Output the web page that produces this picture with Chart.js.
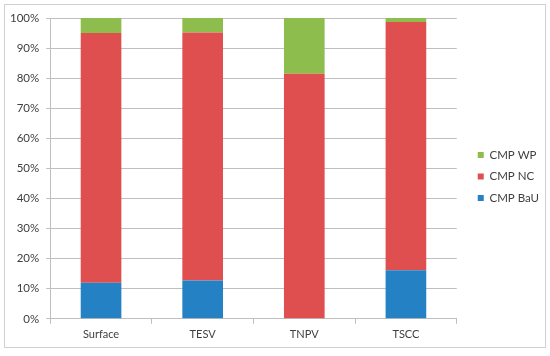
<!DOCTYPE html>
<html>
<head>
<meta charset="utf-8">
<script src="https://cdn.jsdelivr.net/npm/chart.js@4"></script>
<style>
    html, body { margin: 0; padding: 0; background: #fff; }
    #wrap { width: 550px; height: 356px; position: relative; }
</style>
</head>
<body>
<div id="wrap"><canvas id="chart"></canvas></div>
<script>
// Categories and series (percent of total)
const categories = ['Surface', 'TESV', 'TNPV', 'TSCC'];
const cmpBaU = [12, 12.7, 0, 16.1];
const cmpNC = [83, 82.5, 81.5, 82.6];
const cmpWP = [5, 4.8, 18.5, 1.3];
const yTicks = [0, 10, 20, 30, 40, 50, 60, 70, 80, 90, 100];

const textColor = '#404040';
const gridColor = '#bfbfbf';

// Light gray frame around the whole chart
const framePlugin = {
    id: 'frame',
    beforeDraw(chart) {
        const ctx = chart.ctx;
        ctx.save();
        ctx.fillStyle = '#fff';
        ctx.fillRect(0, 0, chart.width, chart.height);
        ctx.strokeStyle = '#d0d0d0';
        ctx.lineWidth = 1;
        ctx.strokeRect(4.5, 4.5, 541, 343);
        ctx.restore();
    }
};

// Nudge the legend a few pixels up, like the original
const legendShift = {
    id: 'legendShift',
    afterLayout(chart) {
        if (chart.legend) {
            chart.legend.top -= 5;
            chart.legend.bottom -= 5;
        }
    }
};

const ctx = document.getElementById('chart').getContext('2d');
const chart = new Chart(ctx, {
    type: 'bar',
    data: {
        labels: categories,
        datasets: [
            { label: 'CMP BaU', data: cmpBaU, backgroundColor: '#2381c4' },
            { label: 'CMP NC', data: cmpNC, backgroundColor: '#e04f4f' },
            { label: 'CMP WP', data: cmpWP, backgroundColor: '#8cbd4d' }
        ]
    },
    options: {
        responsive: true,
        maintainAspectRatio: false,
        animation: false,
        devicePixelRatio: 1,
        layout: {
            padding: { left: 3, top: 18, right: 1, bottom: 11 }
        },
        datasets: {
            bar: { categoryPercentage: 1, barPercentage: 0.4 }
        },
        plugins: {
            tooltip: { enabled: false },
            legend: {
                position: 'right',
                reverse: true,
                labels: {
                    boxWidth: 6,
                    boxHeight: 6,
                    padding: 10,
                    color: textColor,
                    font: { family: 'Lato', size: 11.5 }
                }
            }
        },
        scales: {
            x: {
                stacked: true,
                grid: {
                    drawOnChartArea: false,
                    drawTicks: true,
                    tickLength: 5,
                    color: gridColor
                },
                border: { color: gridColor },
                ticks: {
                    color: textColor,
                    padding: 4,
                    font: { family: 'Lato', size: 11 }
                }
            },
            y: {
                stacked: true,
                min: 0,
                max: 100,
                afterBuildTicks: function(scale) {
                    scale.ticks = yTicks.map(v => ({ value: v }));
                },
                grid: {
                    color: gridColor,
                    tickLength: 4
                },
                border: { color: gridColor },
                ticks: {
                    color: textColor,
                    padding: 7,
                    font: { family: 'Lato', size: 11.5 },
                    callback: function(value) {
                        return value + '%';
                    }
                }
            },
            // empty right-side axis, only used as a gap before the legend
            gap: {
                type: 'linear',
                position: 'right',
                grid: { display: false },
                border: { display: false },
                ticks: { display: false },
                afterFit: function(scale) {
                    scale.width = 11;
                }
            }
        }
    },
    plugins: [framePlugin, legendShift]
});
</script>
</body>
</html>
